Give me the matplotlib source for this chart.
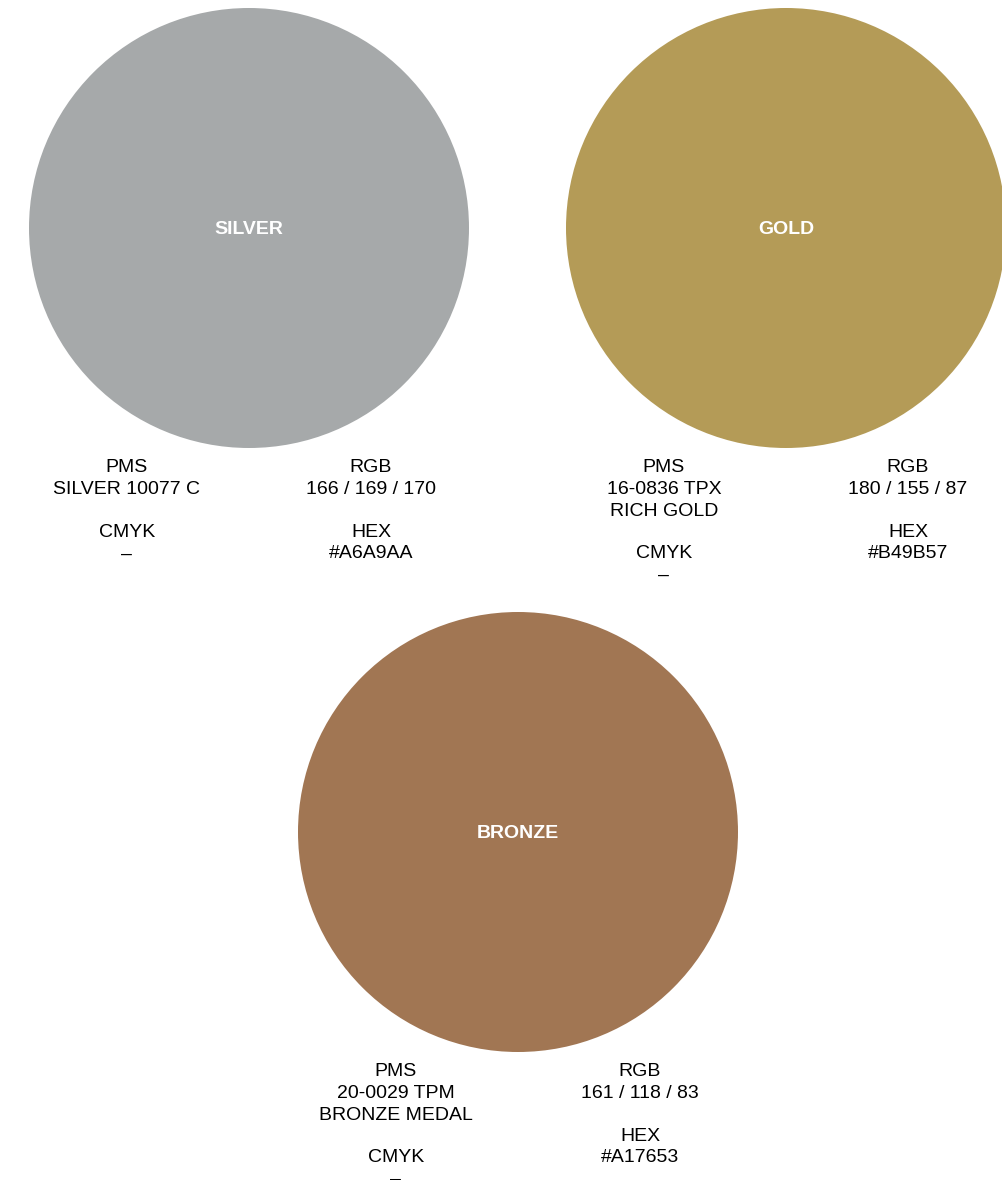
import matplotlib
matplotlib.use("Agg")
import matplotlib.pyplot as plt
from matplotlib.patches import Circle

# Data
names = ["SILVER", "GOLD", "BRONZE"]
hex_codes = ["#A6A9AA", "#B49B57", "#A17653"]
rgb_values = ["166 / 169 / 170", "180 / 155 / 87", "161 / 118 / 83"]
pms_lines = [["SILVER 10077 C"], ["16-0836 TPX", "RICH GOLD"], ["20-0029 TPM", "BRONZE MEDAL"]]
cmyk_values = ["–", "–", "–"]

# Layout (pixels)
W, H = 1003, 1180
centers = [(249, 228), (786, 228), (518, 832)]
radius = 220
pms_x_off = -122
rgb_x_off = 122
text_top_off = 240
line_h = 21.5

plt.rcParams['font.family'] = ['Liberation Sans', 'DejaVu Sans']

fig = plt.figure(figsize=(W / 100, H / 100), dpi=100)
ax = fig.add_axes([0, 0, 1, 1])
ax.set_xlim(0, W)
ax.set_ylim(H, 0)
ax.set_aspect('equal')
ax.axis('off')

fs = 14
for name, hx, rgb, pms, cmyk, (cx, cy) in zip(names, hex_codes, rgb_values, pms_lines, cmyk_values, centers):
    ax.add_patch(Circle((cx, cy), radius, facecolor=hx, edgecolor='none'))
    ax.text(cx, cy + 1, name, color='white', fontsize=14, fontweight='bold', ha='center', va='center')
    y0 = cy + text_top_off
    # left column
    left = ["PMS"] + pms + ["", "CMYK", cmyk]
    for i, s in enumerate(left):
        if s:
            ax.text(cx + pms_x_off, y0 + i * line_h, s, fontsize=fs, ha='center', va='center', color='black')
    right = ["RGB", rgb, "", "HEX", hx]
    for i, s in enumerate(right):
        if s:
            ax.text(cx + rgb_x_off, y0 + i * line_h, s, fontsize=fs, ha='center', va='center', color='black')

fig.savefig("out.png", dpi=100)
